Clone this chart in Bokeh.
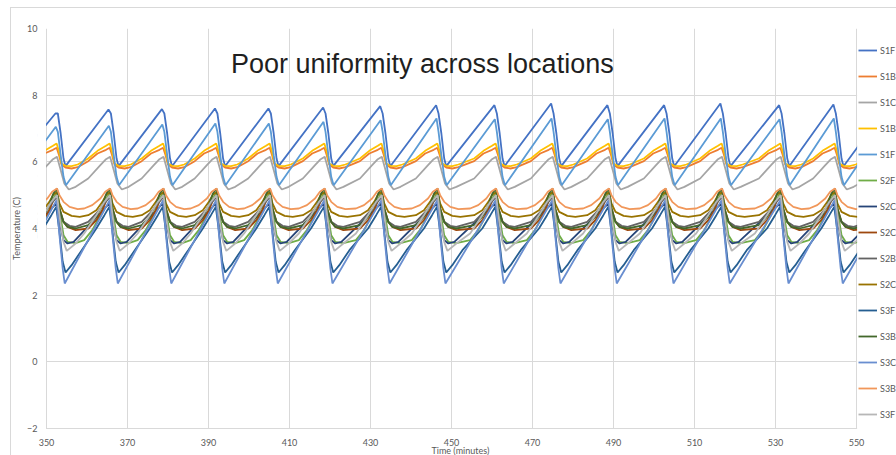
from bokeh.plotting import figure
from bokeh.models import Range1d, Legend, LegendItem, Label, LinearAxis, FixedTicker
from bokeh.core.properties import value
from bokeh.embed import file_html
from bokeh.resources import INLINE

# Peak times of each cooling cycle (minutes); first and last fall just outside the view
cycle_peaks = [339.0, 352.2, 365.3, 378.5, 391.6, 404.8, 418.3, 432.4, 446.2,
               460.6, 474.6, 488.5, 502.5, 516.4, 530.9, 544.3, 558.0]

# Per-cycle peak temperatures for the two front sensors of shelf 1
s1f_a_peaks = [7.40, 7.45, 7.57, 7.58, 7.60, 7.60, 7.63, 7.67, 7.70,
               7.70, 7.75, 7.70, 7.70, 7.75, 7.70, 7.72, 7.72]
s1f_b_peaks = [7.00, 7.05, 7.08, 7.12, 7.15, 7.15, 7.20, 7.25, 7.30,
               7.28, 7.30, 7.28, 7.30, 7.30, 7.28, 7.30, 7.30]

# Temperature around each peak: (minutes from the cycle peak, deg C); None = peak value
s1f_a = [(0.0, None), (0.6, 7.45), (1.3, 6.85), (2.0, 6.10), (2.5, 5.87)]
s1b_a = [(-5.0, 6.02), (-2.7, 6.25), (-0.6, 6.36), (0.3, 6.42), (0.9, 6.20),
         (1.5, 5.92), (2.5, 5.83), (4.0, 5.80), (5.5, 5.84)]
s1c = [(-5.0, 5.50), (-2.0, 5.90), (-0.6, 6.08), (0.4, 6.15), (1.2, 5.80),
       (2.2, 5.35), (3.3, 5.17), (5.0, 5.25)]
s1b_b = [(-5.0, 6.10), (-2.7, 6.33), (-0.6, 6.48), (0.3, 6.55), (0.9, 6.30),
         (1.5, 5.95), (2.5, 5.88), (4.0, 5.87), (5.5, 5.92)]
s1f_b = [(0.1, None), (0.6, 6.90), (1.3, 6.20), (2.0, 5.55), (2.6, 5.30)]
s2f = [(-6.0, 3.65), (-4.0, 3.95), (-2.0, 4.40), (-0.7, 4.85), (0.4, 5.10),
       (1.2, 4.40), (2.0, 3.80), (3.0, 3.60), (5.0, 3.56)]
s2c_a = [(0.2, 4.75), (1.0, 4.20), (2.0, 3.65), (3.0, 3.55), (4.5, 3.60)]
s2c_b = [(-5.0, 4.00), (-3.0, 4.25), (-1.5, 4.55), (-0.5, 4.85), (0.4, 5.00),
         (1.0, 4.60), (2.0, 4.20), (3.0, 4.05), (5.0, 3.95)]
s2b = [(-5.0, 4.20), (-3.0, 4.45), (-1.0, 4.75), (0.4, 4.95), (1.0, 4.50),
       (2.0, 4.20), (3.5, 4.08), (5.0, 4.05)]
s2c_c = [(-5.0, 4.40), (-3.0, 4.55), (-1.5, 4.80), (-0.6, 5.00), (0.4, 5.10),
         (1.0, 4.75), (2.0, 4.50), (4.0, 4.38), (6.0, 4.35)]
s3f_a = [(-3.0, 4.00), (-1.0, 4.40), (0.2, 4.65), (1.0, 3.90), (1.8, 3.00),
         (2.5, 2.68), (4.0, 2.90), (6.5, 3.35)]
s3b_a = [(-5.0, 4.10), (-3.0, 4.35), (-1.5, 4.70), (-0.5, 5.05), (0.4, 5.20),
         (1.0, 4.60), (2.0, 4.20), (3.0, 4.05), (5.0, 4.00)]
s3c = [(0.3, 4.85), (1.0, 3.80), (1.8, 2.80), (2.3, 2.35)]
s3b_b = [(-6.0, 4.60), (-4.0, 4.70), (-2.0, 4.90), (-0.8, 5.10), (0.4, 5.20),
         (1.0, 5.00), (2.0, 4.80), (3.5, 4.65), (5.5, 4.58)]
s3f_b = [(-6.0, 3.85), (-3.0, 4.40), (-1.0, 4.80), (0.4, 5.00), (1.2, 4.20),
         (2.0, 3.60), (2.8, 3.33), (5.0, 3.55)]

labels = ["S1F", "S1B", "S1C", "S1B", "S1F", "S2F", "S2C", "S2C",
          "S2B", "S2C", "S3F", "S3B", "S3C", "S3B", "S3F"]
colors = ["#4472C4", "#ED7D31", "#A5A5A5", "#FFC000", "#5B9BD5", "#70AD47",
          "#264478", "#9E480E", "#636363", "#997300", "#255E91", "#43682B",
          "#698ED0", "#F1975A", "#B7B7B7"]
profiles = [s1f_a, s1b_a, s1c, s1b_b, s1f_b, s2f, s2c_a, s2c_b,
            s2b, s2c_c, s3f_a, s3b_a, s3c, s3b_b, s3f_b]
peak_lists = [s1f_a_peaks, None, None, None, s1f_b_peaks] + [None] * 10

x_ticks = list(range(350, 551, 20))
y_ticks = list(range(-2, 11, 2))
x_title = "Time (minutes)"
y_title = "Temperature (C)"
title = "Poor uniformity across locations"


def trace(profile, peaks):
    pts = []
    for k, t0 in enumerate(cycle_peaks):
        for dt, v in profile:
            pts.append((t0 + dt, peaks[k] if v is None else v))
    pts.sort()
    return [q[0] for q in pts], [q[1] for q in pts]


grey = "#d9d9d9"
text_grey = "#595959"
px_x = 4.05            # pixels per minute
px_y = 400 / 12        # pixels per degree
pad_left = 9           # frame pixels left of the 350 min gridline

# The frame reaches past the 350-550 / -2..10 plot area on the left, right and
# bottom; that margin holds the legend and the time labels.
p = figure(width=896, height=455, output_backend="svg", toolbar_location=None,
           x_range=Range1d(350 - pad_left / px_x, 350 + 850 / px_x),
           y_range=Range1d(10 - 427 / px_y, 10),
           x_axis_location=None,
           min_border_left=46 - pad_left, min_border_right=0, min_border_top=28,
           min_border_bottom=0, background_fill_color="white",
           border_fill_alpha=0)
p.outline_line_color = None
# thin chart-area border behind the transparent canvas border
edge = f"linear-gradient({grey}, {grey})"
p.styles = {
    "background-color": "white",
    "background-image": f"{edge}, {edge}",
    "background-position": "10px 7px, 10px 7px",
    "background-size": "1px 100%, 100% 1px",
    "background-repeat": "no-repeat",
}

p.yaxis.ticker = y_ticks
# outer left axis only carries the rotated axis title, centred on the plot area
title_axis = LinearAxis(ticker=FixedTicker(ticks=[4]),
                        major_label_overrides={4: y_title},
                        major_label_orientation="vertical")
p.add_layout(title_axis, "left")

for ax in (p.yaxis[0], title_axis):
    ax.axis_line_color = None
    ax.major_tick_line_color = None
    ax.minor_tick_line_color = None
    ax.major_tick_out = 0
    ax.major_tick_in = 0
    ax.minor_tick_out = 0
    ax.minor_tick_in = 0
    ax.major_label_text_font = "Lato"
    ax.major_label_text_font_size = "9px"
    ax.major_label_text_color = text_grey
p.yaxis[0].major_label_standoff = 0
title_axis.major_label_standoff = 3
p.xgrid.grid_line_color = grey
p.ygrid.grid_line_color = grey
p.xgrid.ticker = x_ticks
p.ygrid.ticker = y_ticks
p.grid.grid_line_width = 1

items = []
for lab, col, prof, pk in zip(labels, colors, profiles, peak_lists):
    xs, ys = trace(prof, pk)
    r = p.line(xs, ys, line_color=col, line_width=1.8)
    items.append(LegendItem(label=lab, renderers=[r]))

# blank out traces and grid outside the plot area; the left mask is stacked
# so no antialiased sliver survives at the frame edge
p.quad(left=[550.15], right=[600], bottom=[-5], top=[15],
       fill_color="white", line_color=None)
p.quad(left=[300] * 4, right=[350 - 0.5 / px_x] * 4, bottom=[-5] * 4, top=[15] * 4,
       fill_color="white", line_color=None)
p.quad(left=[300], right=[600], bottom=[-5], top=[-2 - 0.5 / px_y],
       fill_color="white", line_color=None)

# time labels under the plot area
p.text(x=x_ticks, y=[-2 - 13.5 / px_y] * len(x_ticks),
       text=[str(t) for t in x_ticks],
       text_align="center", text_baseline="middle", text_font=value("Lato"),
       text_font_size="9px", text_color=text_grey)
p.text(x=[452.2], y=[-2 - 21.5 / px_y], text=[x_title],
       text_align="center", text_baseline="middle", text_font=value("Lato"),
       text_font_size="9px", text_color=text_grey)

legend = Legend(items=items, location=(812 + pad_left, 34), orientation="vertical",
                glyph_width=19, glyph_height=14, label_height=14,
                label_standoff=3, spacing=12, padding=0, margin=0,
                label_text_font="Lato", label_text_font_size="9px",
                label_text_color=text_grey, border_line_alpha=0,
                background_fill_alpha=0)
p.add_layout(legend, "center")

p.add_layout(Label(x=442.8, y=8.95, text=title,
                   text_align="center", text_baseline="middle",
                   text_font="Liberation Sans", text_font_size="27px",
                   text_color="#1f1f1f"))

open("out.html", "w").write(file_html(p, INLINE))
